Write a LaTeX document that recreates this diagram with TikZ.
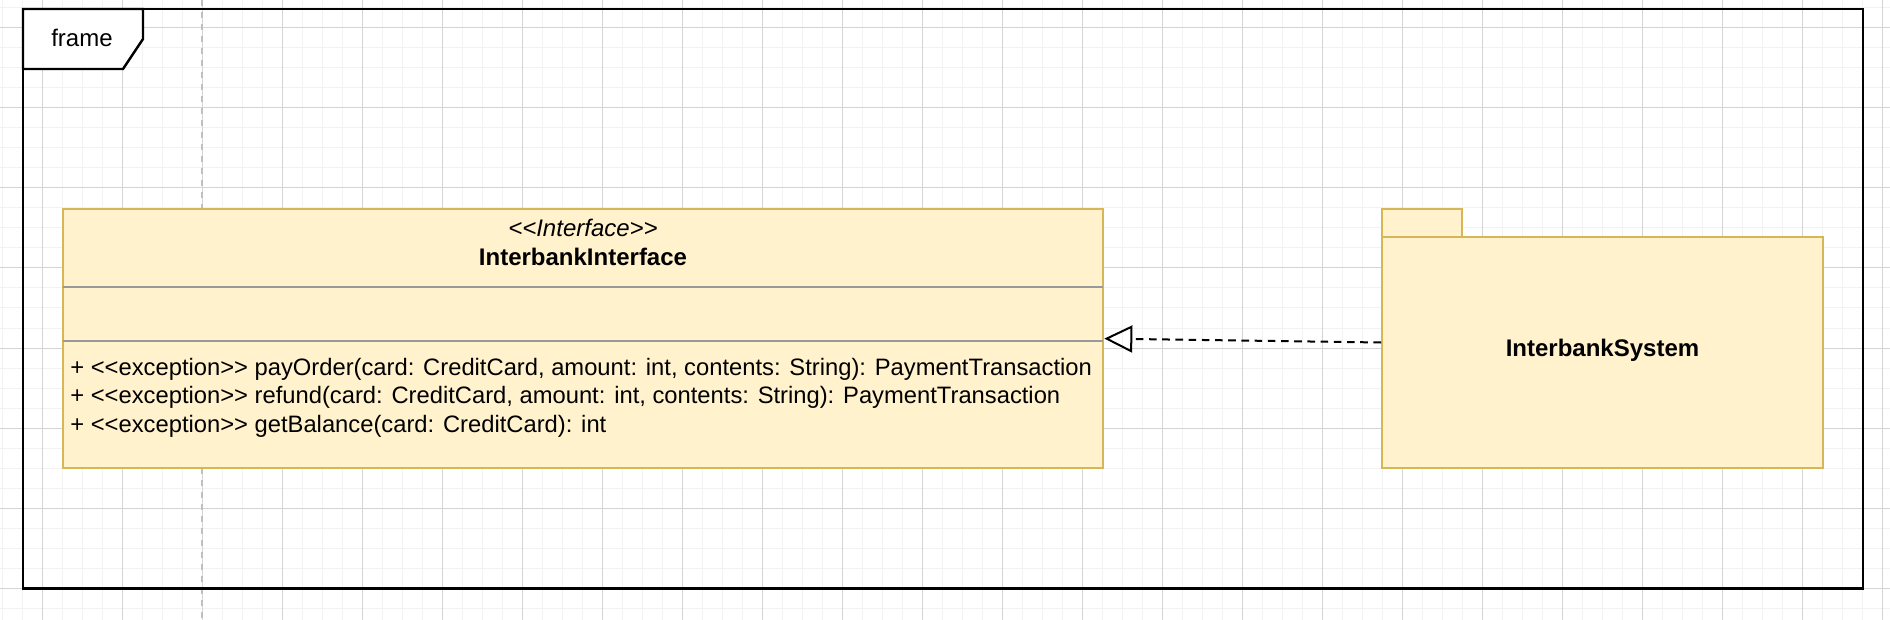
\documentclass[tikz,border=0pt]{standalone}
\usepackage{fontspec}
\usepackage{xcolor}
\newfontfamily\drawiofont{Liberation Sans}
\usetikzlibrary{calc}
\usetikzlibrary{arrows.meta}
\usetikzlibrary{positioning}
\definecolor{custom-yellow}{RGB}{255, 242, 204}
\definecolor{custom-gold}{RGB}{214, 182, 86}
\definecolor{custom-grey}{RGB}{153, 153, 153}
\definecolor{grid-minor}{RGB}{242, 242, 242}
\definecolor{grid-major}{RGB}{212, 212, 212}
\newcommand{\umlfont}{\drawiofont\fontsize{12}{14}\selectfont}
\tikzset{
  umlbox/.style={rectangle, draw=custom-gold, fill=custom-yellow, line width=1pt, inner sep=0pt},
  umltext/.style={inner sep=0pt, font=\umlfont},
  umlmethod/.style={inner sep=0pt, anchor=base west, font=\drawiofont\fontsize{11.88}{14}\selectfont},
  umlbold/.style={inner sep=0pt, font=\umlfont\bfseries},
  umlital/.style={inner sep=0pt, font=\umlfont\itshape},
  realizes/.style={line width=1pt, dash pattern=on 3.8pt off 2.8pt, -{Triangle[open, length=14pt, width=13.5pt]}},
}

\begin{document}
\begin{tikzpicture}[x=0.5pt, y=-0.5pt]
\useasboundingbox (0,0) rectangle (1890,620);
\fill[white] (0,0) rectangle (1890,620);
% grid
\foreach \x in {2,22,...,1882} \draw[grid-minor, line width=0.5pt] (\x,0) -- (\x,620);
\foreach \y in {8,28,...,608} \draw[grid-minor, line width=0.5pt] (0,\y) -- (1890,\y);
\foreach \x in {42,122,...,1882} \draw[grid-major, line width=0.5pt] (\x,0) -- (\x,620);
\foreach \y in {28,108,...,588} \draw[grid-major, line width=0.5pt] (0,\y) -- (1890,\y);
\draw[black!25, line width=0.7pt, dash pattern=on 3pt off 3pt] (202,0) -- (202,620);

% frame
\draw[line width=1.2pt] (23,9) rectangle (1863,588.5);
\filldraw[fill=white, draw=black, line width=1.2pt] (23,9) -- (143,9) -- (143,39) -- (123,69) -- (23,69) -- cycle;
\node[umltext, anchor=base] (frame) at (82,46.7) {frame};

% interface
\node[umlbox, minimum width=520.3pt, minimum height=129.65pt] (iface) at (583,338.6) {};
\draw[custom-grey, line width=1pt, shorten <=0.5pt, shorten >=0.5pt] (iface.west |- 0,287) -- (iface.east |- 0,287);
\draw[custom-grey, line width=1pt, shorten <=0.5pt, shorten >=0.5pt] (iface.west |- 0,341) -- (iface.east |- 0,341);
\node[umlital, anchor=base] (stereo) at (583,236.7) {<<Interface>>};
\node[umlbold, anchor=base] (ifacename) at (583,265.7) {InterbankInterface};
\node[umlmethod] (payorder) at (70,375) {+ <<exception>> payOrder(card: CreditCard, amount: int, contents: String): PaymentTransaction};
\node[umlmethod] (refund) at (70,403.5) {+ <<exception>> refund(card: CreditCard, amount: int, contents: String): PaymentTransaction};
\node[umlmethod] (balance) at (70,432) {+ <<exception>> getBalance(card: CreditCard): int};

% package
\node[umlbox, minimum width=40pt, minimum height=14pt] (pkgtab) at (1422,223) {};
\node[umlbox, minimum width=220.5pt, minimum height=115.5pt] (pkg) at (1602.5,352.5) {};
\node[umlbold, anchor=base] (pkgname) at (1602.5,356.7) {InterbankSystem};

\draw[realizes] ($(pkg.west)+(0,-10)$) -- (iface.east);
\end{tikzpicture}
\end{document}
